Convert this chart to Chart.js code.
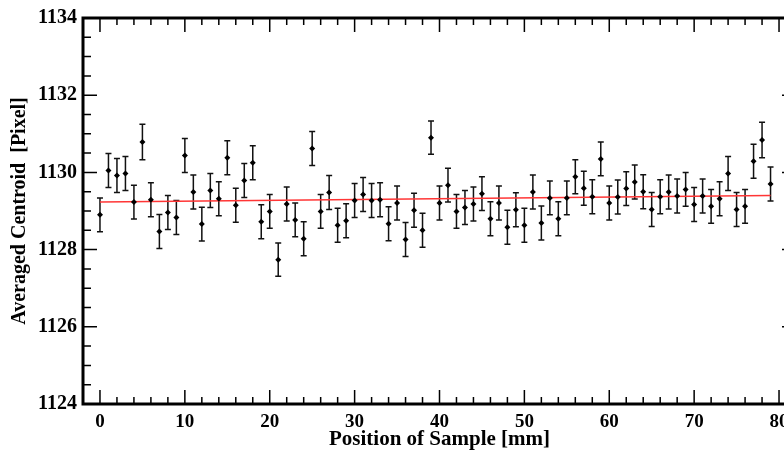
<!DOCTYPE html>
<html>
<head>
<meta charset="utf-8">
<script src="https://cdn.jsdelivr.net/npm/chart.js@4"></script>
<style>
body { margin: 0; background: #fff; }
#wrap { width: 784px; height: 452px; overflow: hidden; }
canvas { display: block; }
</style>
</head>
<body>
<div id="wrap"><canvas id="plot" width="800" height="452"></canvas></div>
<script>
// position of sample (mm)
let positions = [0,1,2,3,4,5,6,7,8,9,10,11,12,13,14,15,16,17,18,19,
    20,21,22,23,24,25,26,27,28,29,30,31,32,33,34,35,36,37,38,39,
    40,41,42,43,44,45,46,47,48,49,50,51,52,53,54,55,56,57,58,59,
    60,61,62,63,64,65,66,67,68,69,70,71,72,73,74,75,76,77,78,79];

// averaged centroid (pixel)
let centroids = [1128.90,1130.05,1129.92,1129.97,1129.23,1130.79,1129.29,1128.47,1128.96,1128.83,
    1130.44,1129.49,1128.66,1129.53,1129.32,1130.38,1129.15,1129.79,1130.25,1128.72,
    1128.99,1127.74,1129.18,1128.77,1128.28,1130.62,1128.99,1129.48,1128.63,1128.75,
    1129.27,1129.43,1129.27,1129.29,1128.67,1129.21,1128.26,1129.02,1128.50,1130.90,
    1129.21,1129.67,1128.99,1129.09,1129.18,1129.45,1128.80,1129.21,1128.58,1129.03,
    1128.63,1129.49,1128.69,1129.34,1128.80,1129.34,1129.89,1129.59,1129.37,1130.35,
    1129.21,1129.36,1129.58,1129.75,1129.50,1129.04,1129.37,1129.49,1129.39,1129.56,
    1129.17,1129.39,1129.12,1129.32,1129.97,1129.04,1129.12,1130.29,1130.84,1129.70];

// error (+/-)
let errors = [0.44,0.44,0.44,0.44,0.44,0.46,0.44,0.44,0.44,0.44,
    0.44,0.44,0.44,0.44,0.44,0.44,0.44,0.44,0.44,0.44,
    0.44,0.43,0.44,0.44,0.44,0.44,0.44,0.44,0.44,0.44,
    0.44,0.44,0.44,0.44,0.44,0.44,0.44,0.44,0.44,0.43,
    0.44,0.44,0.44,0.44,0.44,0.44,0.44,0.44,0.44,0.44,
    0.44,0.44,0.44,0.44,0.44,0.44,0.44,0.44,0.44,0.44,
    0.44,0.44,0.44,0.44,0.44,0.44,0.44,0.44,0.44,0.44,
    0.44,0.44,0.44,0.44,0.44,0.44,0.44,0.44,0.46,0.44];

// linear fit (red line)
let fitX = [0, 79];
let fitY = [1129.23, 1129.40];

let xTicks = [0,10,20,30,40,50,60,70,80];
let yTicks = [1124,1126,1128,1130,1132,1134];

const serif = 'Liberation Serif';

// error bars + frame with inward ticks like xmgrace
const frame = {
    id: 'frame',
    beforeDatasetsDraw(chart) {
        const c = chart.ctx, xs = chart.scales.x, ys = chart.scales.y;
        c.save();
        c.strokeStyle = '#111';
        c.lineWidth = 1.5;
        for (let i = 0; i < positions.length; i++) {
            let px = xs.getPixelForValue(positions[i]);
            let t = ys.getPixelForValue(centroids[i] + errors[i]);
            let b = ys.getPixelForValue(centroids[i] - errors[i]);
            c.beginPath();
            c.moveTo(px, t); c.lineTo(px, b);
            c.moveTo(px - 3, t); c.lineTo(px + 3, t);
            c.moveTo(px - 3, b); c.lineTo(px + 3, b);
            c.stroke();
        }
        c.restore();
    },
    afterDraw(chart) {
        const c = chart.ctx, a = chart.chartArea, xs = chart.scales.x, ys = chart.scales.y;
        c.save();
        c.strokeStyle = '#000';
        c.lineWidth = 1.5;
        c.beginPath();
        for (let v = 0; v <= 82; v += 2) {
            let len = (v % 10 === 0) ? 14 : 7;
            let px = xs.getPixelForValue(v);
            c.moveTo(px, a.bottom); c.lineTo(px, a.bottom - len);
            c.moveTo(px, a.top); c.lineTo(px, a.top + len);
        }
        for (let v = 1124; v <= 1134; v += 0.5) {
            let len = (v % 2 === 0) ? 14 : 8;
            let py = ys.getPixelForValue(v);
            c.moveTo(a.left, py); c.lineTo(a.left + len, py);
            c.moveTo(a.right, py); c.lineTo(a.right - len, py);
        }
        c.stroke();
        c.lineWidth = 3;
        c.strokeRect(a.left, a.top, a.right - a.left, a.bottom - a.top);
        c.restore();
    }
};

new Chart(document.getElementById('plot'), {
    type: 'scatter',
    data: {
        datasets: [
            {
                label: 'centroid',
                data: positions.map((x, i) => ({x: x, y: centroids[i]})),
                pointStyle: 'rectRot',
                pointRadius: 3,
                backgroundColor: '#000',
                borderColor: '#000',
                borderWidth: 0,
                order: 1
            },
            {
                type: 'line',
                label: 'fit',
                data: fitX.map((x, i) => ({x: x, y: fitY[i]})),
                borderColor: '#ff3535',
                borderWidth: 1.5,
                pointRadius: 0,
                order: 2
            }
        ]
    },
    options: {
        responsive: false,
        animation: false,
        layout: {padding: {top: 15, right: 3, left: 0, bottom: 0}},
        plugins: {legend: {display: false}, tooltip: {enabled: false}},
        scales: {
            x: {
                type: 'linear', min: -2, max: 82,
                grid: {display: false, drawTicks: false},
                border: {display: false},
                afterBuildTicks: s => { s.ticks = xTicks.map(v => ({value: v})); },
                afterFit: s => { s.height = 48; s.paddingLeft = 0; s.paddingRight = 0; },
                ticks: {
                    color: '#000', padding: 7, maxRotation: 0, autoSkip: false,
                    font: {family: serif, size: 19, weight: 'bold'}
                },
                title: {
                    display: true, text: 'Position of Sample [mm]', color: '#000',
                    padding: {top: 0, bottom: 0},
                    font: {family: serif, size: 21, weight: 'bold'}
                }
            },
            y: {
                min: 1124, max: 1134,
                grid: {display: false, drawTicks: false},
                border: {display: false},
                afterBuildTicks: s => { s.ticks = yTicks.map(v => ({value: v})); },
                afterFit: s => { s.width = 83; },
                ticks: {
                    color: '#000', padding: 6,
                    callback: v => String(v),
                    font: {family: serif, size: 20, weight: 'bold'}
                },
                title: {
                    display: true, text: 'Averaged Centroid  [Pixel]', color: '#000',
                    padding: {top: 8, bottom: 0},
                    font: {family: serif, size: 20, weight: 'bold'}
                }
            }
        }
    },
    plugins: [frame]
});
</script>
</body>
</html>
